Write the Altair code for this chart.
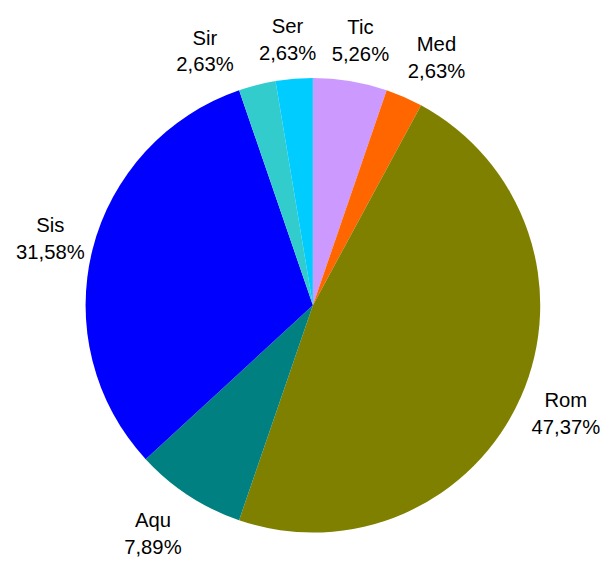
import altair as alt
import pandas as pd

categories = ["Tic", "Med", "Rom", "Aqu", "Sis", "Sir", "Ser"]
percentages = [5.26, 2.63, 47.37, 7.89, 31.58, 2.63, 2.63]
pct_labels = ["5,26%", "2,63%", "47,37%", "7,89%", "31,58%", "2,63%", "2,63%"]
colors = ["#CC99FF", "#FF6600", "#808000", "#008080", "#0000FF", "#33CCCC", "#00CCFF"]

df = pd.DataFrame({
    "cat": categories,
    "value": percentages,
    "label": [c + "\n" + p for c, p in zip(categories, pct_labels)],
    "order": list(range(len(categories))),
})

CX, CY = 308.5, 297.5
R = 230
RT = 274
FONT = "Liberation Sans"
DY0 = -13

base = alt.Chart(df).encode(
    theta=alt.Theta("value:Q", stack=True),
    order=alt.Order("order:Q"),
)

arcs = base.mark_arc(outerRadius=R).encode(
    color=alt.Color("cat:N", scale=alt.Scale(domain=categories, range=colors), legend=None),
    x=alt.value(CX),
    y=alt.value(CY),
)

special = {"Med": (15, 1), "Sir": (-42, 9), "Aqu": (-12, 2), "Ser": (-3, 5),
           "Tic": (3, 3), "Rom": (5, 0)}


def text_layer(expr, dx=0, dy=0):
    return base.transform_calculate(t=expr).mark_text(
        radius=RT, fontSize=20.5, font=FONT, lineHeight=27, align="center",
        baseline="middle", color="black", lineBreak="\n", dx=dx, dy=dy + DY0,
    ).encode(
        text=alt.Text("t:N"),
        x=alt.value(CX),
        y=alt.value(CY),
    )


names = list(special.keys())
layers = [arcs]
layers.append(text_layer(
    f"indexof({names!r}, datum.cat) < 0 ? datum.label : ''"))
for name, (dx, dy) in special.items():
    layers.append(text_layer(f"datum.cat == '{name}' ? datum.label : ''", dx, dy))

chart = alt.layer(*layers).properties(
    width=600, height=553, padding=0,
    autosize=alt.AutoSizeParams(type="none"),
).configure_view(stroke=None)

chart.save("out.html", embed_options={"renderer": "svg", "actions": False})
